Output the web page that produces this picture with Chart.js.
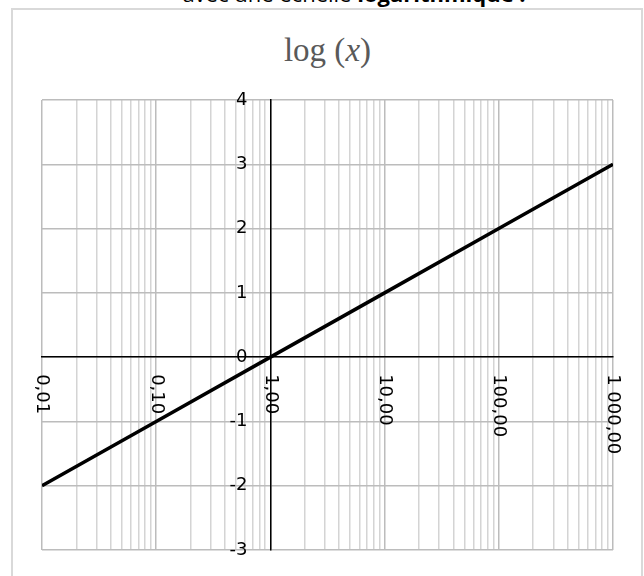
<!DOCTYPE html>
<html><head><meta charset="utf-8">
<script src="https://cdn.jsdelivr.net/npm/chart.js@4/dist/chart.umd.min.js"></script>
<style>
html,body{margin:0;padding:0;background:#fff;overflow:hidden}
#wrap{position:relative;width:644px;height:576px;overflow:hidden}
#frame{position:absolute;left:11px;top:8px;width:632px;height:620px;border:2px solid #d9d9d9;box-sizing:border-box}
#intro{position:absolute;left:0;width:708px;top:-20px;text-align:center;font-family:"Open Sans",sans-serif;font-size:22px;line-height:26px;color:#000;white-space:nowrap}
#title{position:absolute;left:0;width:655px;top:34px;text-align:center;font-family:"Liberation Serif",serif;font-size:33px;line-height:1;color:#595959;white-space:nowrap}
canvas{position:absolute;left:0;top:0}
</style></head>
<body>
<div id="wrap">
<div id="intro">avec une échelle <b>logarithmique :</b></div>
<div id="frame"></div>
<div id="title">log (<i>x</i>)</div>
<canvas id="c" width="644" height="576"></canvas>
</div>
<script>
const xValues = [0.01, 0.1, 1, 10, 100, 1000];
const yValues = [-2, -1, 0, 1, 2, 3];
const xTickValues = [0.01, 0.1, 1, 10, 100, 1000];
const xTickLabels = ['0,01', '0,10', '1,00', '10,00', '100,00', '1 000,00'];
const yTickValues = [-3, -2, -1, 0, 1, 2, 3, 4];
const yTickLabels = ['-3', '-2', '-1', '0', '1', '2', '3', '4'];
const yMin = -3, yMax = 4;

const points = xValues.map((v, i) => ({x: v, y: yValues[i]}));

function isPow10(v) {
  const l = Math.log10(v);
  return Math.abs(l - Math.round(l)) < 1e-9;
}

const axisLabelPlugin = {
  id: 'axislabels',
  afterDraw(chart) {
    const {ctx} = chart;
    const xs = chart.scales.x, ys = chart.scales.y;
    const y0 = ys.getPixelForValue(0);
    const x1 = xs.getPixelForValue(1);
    ctx.save();
    ctx.font = '18px "DejaVu Sans"';
    ctx.fillStyle = '#000';
    // x labels, rotated clockwise, below the x axis line
    ctx.textAlign = 'left';
    ctx.textBaseline = 'middle';
    xTickValues.forEach((v, i) => {
      const px = xs.getPixelForValue(v);
      ctx.save();
      ctx.translate(px, y0 + 17);
      ctx.rotate(Math.PI / 2);
      ctx.fillText(xTickLabels[i], 0, 0);
      ctx.restore();
    });
    // y labels, right aligned left of the y axis line
    ctx.textAlign = 'right';
    ctx.textBaseline = 'middle';
    yTickValues.forEach((v, i) => {
      const py = ys.getPixelForValue(v);
      ctx.fillText(yTickLabels[i], x1 - 23, py);
    });
    ctx.restore();
  }
};

new Chart(document.getElementById('c'), {
  type: 'scatter',
  data: {
    datasets: [{
      data: points,
      showLine: true,
      borderColor: '#000',
      backgroundColor: '#000',
      borderWidth: 3.5,
      pointRadius: 0,
      tension: 0
    }]
  },
  options: {
    responsive: false,
    animation: false,
    layout: {padding: {left: 42, top: 100, right: 31, bottom: 26}},
    plugins: {legend: {display: false}, tooltip: {enabled: false}, title: {display: false}},
    scales: {
      x: {
        type: 'logarithmic',
        min: 0.01,
        max: 1000,
        position: {y: 0},
        afterBuildTicks(scale) {
          const t = [];
          for (let e = -2; e <= 2; e++) {
            for (let m = 1; m <= 9; m++) {
              t.push({value: Number((m * Math.pow(10, e)).toPrecision(4))});
            }
          }
          t.push({value: 1000});
          scale.ticks = t;
        },
        ticks: {display: false},
        grid: {
          drawTicks: false,
          lineWidth: 1.5,
          color: (c) => (c.tick && isPow10(c.tick.value)) ? '#bcbcbc' : '#d4d4d4'
        },
        border: {display: true, color: '#000', width: 1.5}
      },
      y: {
        type: 'linear',
        min: yMin,
        max: yMax,
        position: {x: 1},
        afterBuildTicks(scale) {
          scale.ticks = yTickValues.map(v => ({value: v}));
        },
        ticks: {display: false},
        grid: {drawTicks: false, lineWidth: 1.5, color: '#bcbcbc'},
        border: {display: true, color: '#000', width: 1.5}
      }
    }
  },
  plugins: [axisLabelPlugin]
});
</script>
</body></html>
